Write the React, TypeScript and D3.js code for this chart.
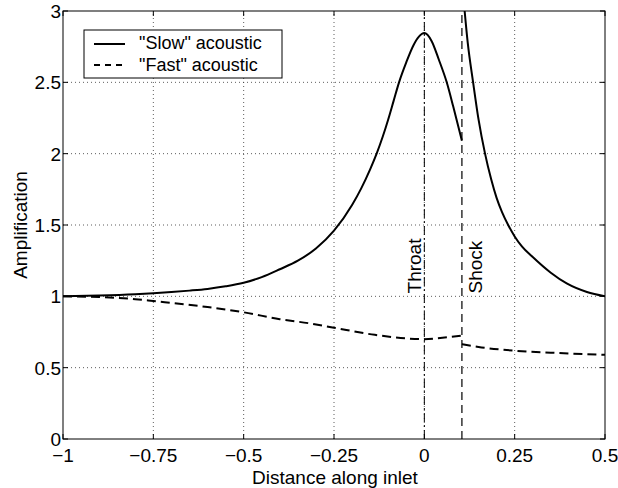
import React from 'react';
import * as d3 from 'd3';

// "Slow" acoustic, upstream of the shock
const slowUpX = [-1, -0.9, -0.8, -0.75, -0.7, -0.65, -0.6, -0.55, -0.5, -0.45, -0.4, -0.35, -0.3, -0.25, -0.2, -0.175, -0.15, -0.132, -0.115, -0.1, -0.085, -0.07, -0.05, -0.03, -0.015, 0, 0.02, 0.04, 0.062, 0.08, 0.104];
const slowUpY = [1.0, 1.005, 1.014, 1.021, 1.03, 1.04, 1.052, 1.07, 1.095, 1.135, 1.19, 1.25, 1.335, 1.46, 1.64, 1.755, 1.89, 2.0, 2.12, 2.24, 2.37, 2.5, 2.64, 2.76, 2.82, 2.845, 2.79, 2.66, 2.5, 2.33, 2.09];
// "Slow" acoustic, downstream of the shock
const slowDownX = [0.108, 0.12, 0.135, 0.15, 0.168, 0.185, 0.2, 0.215, 0.232, 0.25, 0.27, 0.3, 0.35, 0.394, 0.45, 0.5];
const slowDownY = [3.1, 2.78, 2.5, 2.24, 2.0, 1.82, 1.69, 1.59, 1.5, 1.42, 1.35, 1.275, 1.165, 1.09, 1.03, 1.0];
// "Fast" acoustic
const fastUpX = [-1, -0.9, -0.8, -0.75, -0.6, -0.5, -0.4, -0.316, -0.25, -0.137, -0.05, 0, 0.05, 0.104];
const fastUpY = [1.0, 0.995, 0.98, 0.967, 0.925, 0.888, 0.84, 0.81, 0.78, 0.73, 0.705, 0.7, 0.71, 0.725];
const fastDownX = [0.104, 0.15, 0.245, 0.35, 0.5];
const fastDownY = [0.665, 0.645, 0.62, 0.605, 0.59];

const xTicks = [-1, -0.75, -0.5, -0.25, 0, 0.25, 0.5];
const xTickLabels = ['\u22121', '\u22120.75', '\u22120.5', '\u22120.25', '0', '0.25', '0.5'];
const yTicks = [0, 0.5, 1, 1.5, 2, 2.5, 3];
const yTickLabels = ['0', '0.5', '1', '1.5', '2', '2.5', '3'];

const throatX = 0;
const shockX = 0.104;

const W = 618;
const H = 488;
const M = { left: 63, right: 13, top: 11, bottom: 49 };
const FONT = 'Liberation Sans, Arial, Helvetica, sans-serif';

export default function App() {
  const x = d3.scaleLinear().domain([-1, 0.5]).range([M.left, W - M.right]);
  const y = d3.scaleLinear().domain([0, 3]).range([H - M.bottom, M.top]);
  const x0 = x.range()[0], x1 = x.range()[1];
  const y0 = y.range()[0], y1 = y.range()[1];

  const line = d3.line<[number, number]>()
    .x(d => x(d[0]))
    .y(d => y(d[1]))
    .curve(d3.curveMonotoneX);
  const zip = (a: number[], b: number[]) => a.map((v, i) => [v, b[i]] as [number, number]);

  const tick = 5;

  return (
    <svg width={W} height={H} style={{ position: 'absolute', left: 0, top: 0, background: '#fff' }}
      fontFamily={FONT}>
      <defs>
        <clipPath id="plot">
          <rect x={x0} y={y1} width={x1 - x0} height={y0 - y1} />
        </clipPath>
      </defs>
      <rect width={W} height={H} fill="#fff" />

      {/* grid */}
      <g stroke="#333" strokeWidth={0.8} strokeDasharray="1 3">
        {xTicks.slice(1, -1).map(t => (
          <line key={'gx' + t} x1={x(t)} x2={x(t)} y1={y0} y2={y1} />
        ))}
        {yTicks.slice(1, -1).map(t => (
          <line key={'gy' + t} x1={x0} x2={x1} y1={y(t)} y2={y(t)} />
        ))}
      </g>

      {/* ticks */}
      <g stroke="#000" strokeWidth={1}>
        {xTicks.map(t => (
          <g key={'tx' + t}>
            <line x1={x(t)} x2={x(t)} y1={y0} y2={y0 - tick} />
            <line x1={x(t)} x2={x(t)} y1={y1} y2={y1 + tick} />
          </g>
        ))}
        {yTicks.map(t => (
          <g key={'ty' + t}>
            <line x1={x0} x2={x0 + tick} y1={y(t)} y2={y(t)} />
            <line x1={x1} x2={x1 - tick} y1={y(t)} y2={y(t)} />
          </g>
        ))}
      </g>

      {/* throat & shock markers */}
      <line x1={x(throatX)} x2={x(throatX)} y1={y0} y2={y1} stroke="#000" strokeWidth={1}
        strokeDasharray="9 3 2 3" />
      <line x1={x(shockX)} x2={x(shockX)} y1={y0} y2={y1} stroke="#000" strokeWidth={1.2}
        strokeDasharray="8 5" />
      <text transform={`translate(${x(throatX) - 3.5},${y(1.02)}) rotate(-90)`} fontSize={19}>Throat</text>
      <text transform={`translate(${x(shockX) + 20},${y(1.02)}) rotate(-90)`} fontSize={19}>Shock</text>

      {/* curves */}
      <g clipPath="url(#plot)" fill="none" stroke="#000" strokeWidth={2}>
        <path d={line(zip(slowUpX, slowUpY)) || ''} />
        <path d={line(zip(slowDownX, slowDownY)) || ''} />
        <path d={line(zip(fastUpX, fastUpY)) || ''} strokeDasharray="9 5" />
        <path d={line(zip(fastDownX, fastDownY)) || ''} strokeDasharray="9 5" />
      </g>

      {/* axes box */}
      <rect x={x0} y={y1} width={x1 - x0} height={y0 - y1} fill="none" stroke="#000" strokeWidth={1} />

      {/* tick labels */}
      <g fontSize={19} fill="#000">
        {xTicks.map((t, i) => (
          <text key={'lx' + t} x={x(t)} y={y0 + 23} textAnchor="middle">{xTickLabels[i]}</text>
        ))}
        {yTicks.map((t, i) => (
          <text key={'ly' + t} x={x0 - 2} y={y(t) + 7} textAnchor="end">{yTickLabels[i]}</text>
        ))}
      </g>

      <text x={335} y={484} textAnchor="middle" fontSize={19}>Distance along inlet</text>
      <text transform={`translate(${27},${225}) rotate(-90)`} textAnchor="middle" fontSize={19}>Amplification</text>

      {/* legend */}
      <g>
        <rect x={84} y={30} width={198} height={48} fill="#fff" stroke="#000" strokeWidth={1} />
        <line x1={94} x2={125} y1={44} y2={44} stroke="#000" strokeWidth={2} />
        <line x1={94} x2={125} y1={65} y2={65} stroke="#000" strokeWidth={2} strokeDasharray="6 5" />
        <text x={139} y={49} fontSize={18}>"Slow" acoustic</text>
        <text x={139} y={70.5} fontSize={18}>"Fast" acoustic</text>
      </g>
    </svg>
  );
}
